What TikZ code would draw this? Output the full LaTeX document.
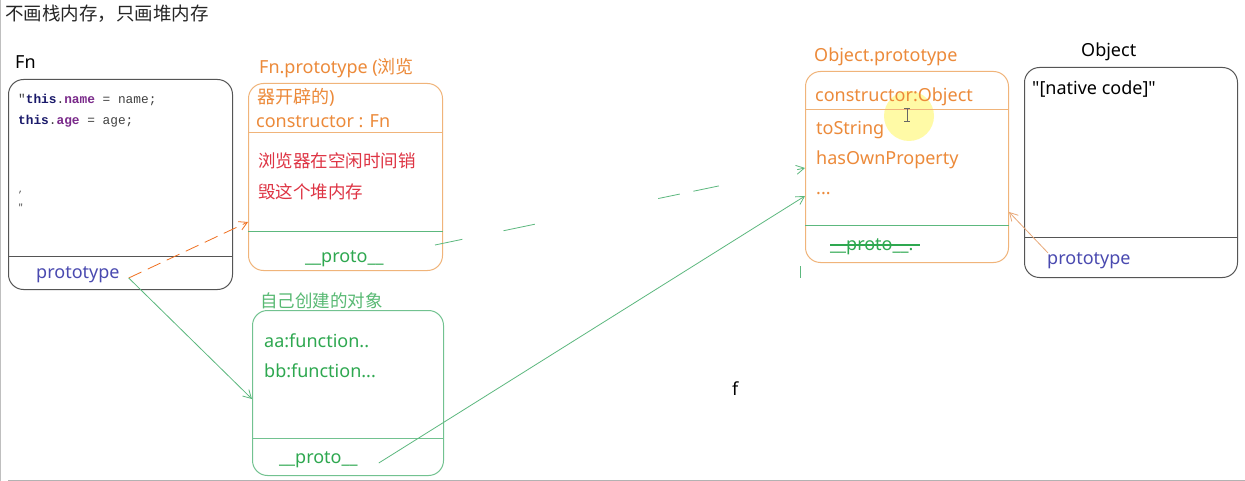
\documentclass[tikz,border=0pt]{standalone}
\usepackage{fontspec}
\setmainfont{Noto Sans}[Ligatures=TeXOff]
\newfontfamily\cjk{Noto Sans CJK SC}
\newfontfamily\codefont{Liberation Mono}
\usetikzlibrary{arrows.meta}
\definecolor{obord}{HTML}{F0B47A}
\definecolor{otext}{HTML}{EC8A3A}
\definecolor{rtext}{HTML}{DE3444}
\definecolor{gbord}{HTML}{72C290}
\definecolor{gtext}{HTML}{2EA850}
\definecolor{gline}{HTML}{5CB87E}
\definecolor{btext}{HTML}{4A4AB0}
\definecolor{kbord}{HTML}{555555}
\definecolor{navy}{HTML}{1A1A6A}
\definecolor{purp}{HTML}{7A2A8A}
\definecolor{arrorange}{HTML}{F07020}
\definecolor{arrtan}{HTML}{E8A878}
\tikzset{
  membox/.style={draw, rounded corners=15pt, line width=1pt, inner sep=0pt, anchor=north west},
  txt/.style={inner sep=0pt, anchor=base west, font=\fontsize{18}{21}\selectfont},
  ctxt/.style={inner sep=0pt, anchor=base west, font=\cjk\fontsize{17.5}{20}\selectfont},
  codetxt/.style={inner sep=0pt, anchor=base west, font=\codefont\fontsize{12.8}{15}\selectfont, text=black!75},
  conn/.style={line width=0.8pt, -{Straight Barb[length=8pt,width=9pt]}},
}
\begin{document}
\begin{tikzpicture}[x=1pt,y=-1pt]
\useasboundingbox (0,0) rectangle (1245,481);
\fill[white] (0,0) rectangle (1245,481);
\draw[color=black!25, line width=1pt] (0.5,0) -- (0.5,481);
\draw[color=black!30, line width=1.2pt] (8,480.4) -- (1245,480.4);

% title
\node[ctxt, font=\cjk\fontsize{18.5}{21}\selectfont, text=black!85] (title) at (5,21) {不画栈内存，只画堆内存};

% ---------- Fn box ----------
\node[txt, text=black] (fnlabel) at (15,69) {Fn};
\node[membox, color=kbord, minimum width=224pt, minimum height=210pt] (fnbox) at (8,79) {};
\draw[color=kbord, line width=1pt] (fnbox.west |- 0,256) -- (fnbox.east |- 0,256);
\node[codetxt] (code1) at (18,104) {\symbol{34}\textbf{\color{navy}this}.\textbf{\color{purp}name} = name;};
\node[codetxt] (code2) at (18,125) {\textbf{\color{navy}this}.\textbf{\color{purp}age} = age;};
\node[codetxt, font=\codefont\fontsize{9}{10}\selectfont] (code3) at (18,193) {,};
\node[codetxt, font=\codefont\fontsize{9}{10}\selectfont] (code4) at (18,211) {\symbol{34}};
\node[txt, text=btext] (fnproto) at (36,278) {prototype};

% ---------- Fn.prototype box ----------
\node[txt, text=otext] (fplabel) at (259,74) {Fn.prototype ({\cjk 浏览}};
\node[membox, color=obord, minimum width=194pt, minimum height=187pt] (fpbox) at (248,83) {};
\node[txt, text=otext] (fpl2) at (257,104) {{\cjk 器开辟的})};
\node[txt, text=otext] (fpctor) at (256,128) {constructor : Fn};
\draw[color=obord, line width=1pt] (fpbox.west |- 0,133) -- (fpbox.east |- 0,133);
\node[ctxt, text=rtext] (fpr1) at (258,168) {浏览器在空闲时间销};
\node[ctxt, text=rtext] (fpr2) at (258,199) {毁这个堆内存};
\draw[color=gline, line width=1pt] (fpbox.west |- 0,232) -- (fpbox.east |- 0,232);
\node[txt, text=gtext] (fpproto) at (305,262) {\_\_proto\_\_};

% ---------- own object box ----------
\node[ctxt, text=gtext!80!white] (oolabel) at (260,307) {自己创建的对象};
\node[membox, color=gbord, minimum width=191pt, minimum height=165pt] (oobox) at (252,310) {};
\node[txt, text=gtext] (ooaa) at (264,347) {aa:function..};
\node[txt, text=gtext] (oobb) at (264,377) {bb:function...};
\draw[color=gbord, line width=1pt] (oobox.west |- 0,438) -- (oobox.east |- 0,438);
\node[txt, text=gtext] (ooproto) at (279,463) {\_\_proto\_\_};

% ---------- Object.prototype box ----------
\node[txt, text=otext] (oplabel) at (814,62) {Object.prototype};
\node[membox, color=obord, minimum width=203pt, minimum height=191pt] (opbox) at (805,71) {};
\fill[yellow, opacity=0.35] (909,116) circle (25);
\node[txt, text=otext] (opctor) at (815,102) {constructor:Object};
\draw[color=obord, line width=1pt] (opbox.west |- 0,110) -- (opbox.east |- 0,110);
\node[txt, text=otext] (opts) at (816,135) {toString};
\node[txt, text=otext] (ophop) at (816,165) {hasOwnProperty};
\node[txt, text=otext] (opdots) at (816,195) {...};
\draw[color=gline, line width=1pt] (opbox.west |- 0,226) -- (opbox.east |- 0,226);
\node[txt, text=gtext] (opproto) at (830,251) {\_\_proto\_\_.};
\draw[color=gtext, line width=2.6pt] (opproto.west |- 0,245) -- (920,245);
% cursor
\draw[color=black!60, line width=0.9pt] (907,108) -- (907,121) (904,108) -- (910,108) (904,121) -- (910,121);

% ---------- Object box ----------
\node[txt, text=black] (objlabel) at (1081,57) {Object};
\node[membox, color=kbord, minimum width=213pt, minimum height=210pt] (objbox) at (1024,67) {};
\node[txt, text=black] (objnative) at (1032,95) {"[native code]"};
\draw[color=kbord, line width=1pt] (objbox.west |- 0,238) -- (objbox.east |- 0,238);
\node[txt, text=btext] (objproto) at (1047,265) {prototype};

% ---------- connectors ----------
\coordinate (fnprotoend) at ([xshift=9pt,yshift=0pt]fnproto.base east);
\coordinate (fpin) at (fpbox.west |- 0,222);
\coordinate (ooin) at (oobox.west |- 0,399);
\coordinate (opin1) at (opbox.west |- 0,168);
\coordinate (opin2) at (opbox.west |- 0,196);
\coordinate (opin3) at (opbox.east |- 0,212);
\coordinate (ooprotoend) at ([xshift=21pt,yshift=0pt]ooproto.base east);
\coordinate (fpprotoend) at (435,245);
\coordinate (objprotostart) at ([xshift=1pt,yshift=0pt]objproto.north west);

\draw[conn, color=arrorange, dash pattern=on 14pt off 7pt] (fnprotoend) -- (fpin);
\draw[conn, color=gline] (fnprotoend) -- (ooin);
\draw[conn, color=gline] (ooprotoend) -- (opin2);
\draw[conn, color=gline, dash pattern=on 28pt off 42pt on 32pt off 126pt on 22pt off 14pt on 26pt off 80pt] (fpprotoend) -- (opin1);
\draw[conn, color=arrtan] (objprotostart) -- (opin3);

% stray marks
\draw[color=gline, line width=1pt] (800,266) -- (800,278);
\node[txt, text=black] (f) at (732,395) {f};
\end{tikzpicture}
\end{document}
